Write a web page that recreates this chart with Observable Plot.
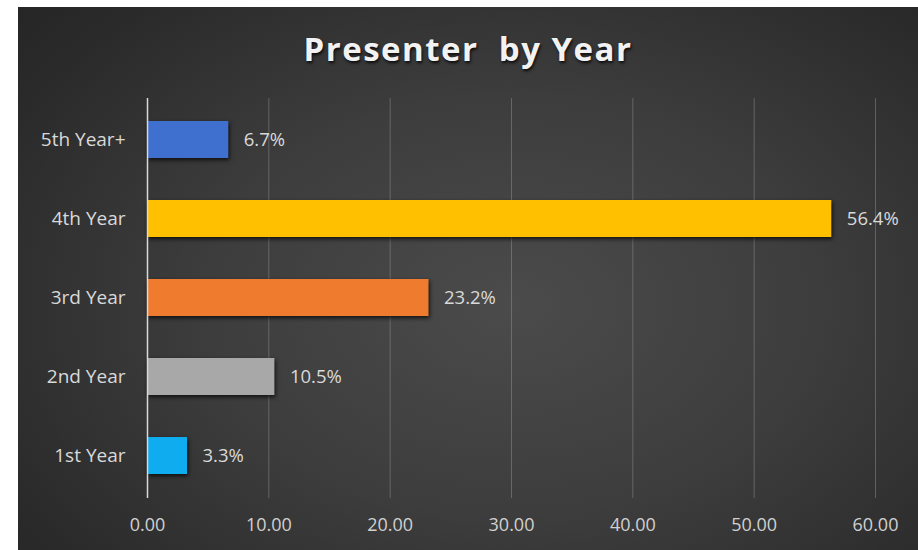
<!DOCTYPE html>
<html>
<head>
<meta charset="utf-8">
<script src="https://cdn.jsdelivr.net/npm/d3@7"></script>
<script src="https://cdn.jsdelivr.net/npm/@observablehq/plot@0.6"></script>
<style>
  html, body { margin: 0; padding: 0; background: #ffffff; }
  #wrap {
    position: absolute; left: 18px; top: 7px; width: 900px; height: 543px;
    background: radial-gradient(ellipse 75% 85% at 55% 55%, #4b4b4b 0%, #3d3d3d 45%, #2a2a2a 85%, #252525 100%);
    overflow: hidden;
  }
  #title {
    position: absolute; left: 0; width: 900px; top: 25px; text-align: center;
    font-family: "Open Sans", sans-serif; font-weight: 700; font-size: 33px;
    letter-spacing: 1.5px; color: #f2f2f2; white-space: pre;
    text-shadow: 1px 2px 3px rgba(0,0,0,0.8);
    line-height: 1;
  }
  #chart { position: absolute; left: 0; top: 0; }
</style>
</head>
<body>
<div id="wrap">
  <div id="chart"></div>
  <div id="title">Presenter  by Year</div>
</div>
<script>
const categories = ["5th Year+", "4th Year", "3rd Year", "2nd Year", "1st Year"];
const values = [6.7, 56.4, 23.2, 10.5, 3.3];
const colors = ["#3f6fcf", "#ffc000", "#ef7b2e", "#a8a8a8", "#0fadf0"];
const xTicks = [0, 10, 20, 30, 40, 50, 60];

const data = categories.map((c, i) => ({category: c, value: values[i], color: colors[i]}));

const chart = Plot.plot({
  width: 900,
  height: 543,
  marginLeft: 129,
  marginRight: 43,
  marginTop: 91,
  marginBottom: 52,
  style: {background: "transparent", color: "#d9d9d9", fontFamily: "'Open Sans', sans-serif", fontSize: "18px"},
  x: {domain: [0, 60]},
  y: {domain: categories, paddingInner: 0.53, paddingOuter: 0.27},
  marks: [
    Plot.gridX(xTicks.slice(1), {stroke: "#9a9a9a", strokeOpacity: 0.45, strokeWidth: 1}),
    Plot.axisX(xTicks, {tickSize: 0, tickPadding: 20, tickFormat: d3.format(".2f"), fontSize: 18, fill: "#d0d0d0", label: null}),
    Plot.axisY({tickSize: 0, tickPadding: 22, fontSize: 19, fill: "#d9d9d9", label: null}),
    Plot.barX(data, {x: "value", y: "category", fill: "color"}),
    Plot.ruleX([0], {stroke: "#d9d9d9", strokeWidth: 1.5}),
    Plot.text(data, {x: "value", y: "category", text: d => d.value.toFixed(1) + "%", textAnchor: "start", dx: 15, fill: "#d9d9d9", fontSize: 18.5})
  ]
});
d3.select(chart).selectAll("g[aria-label='bar'] rect").style("filter", "drop-shadow(1px 2px 2px rgba(0,0,0,0.75))");
document.getElementById("chart").appendChild(chart);
</script>
</body>
</html>
